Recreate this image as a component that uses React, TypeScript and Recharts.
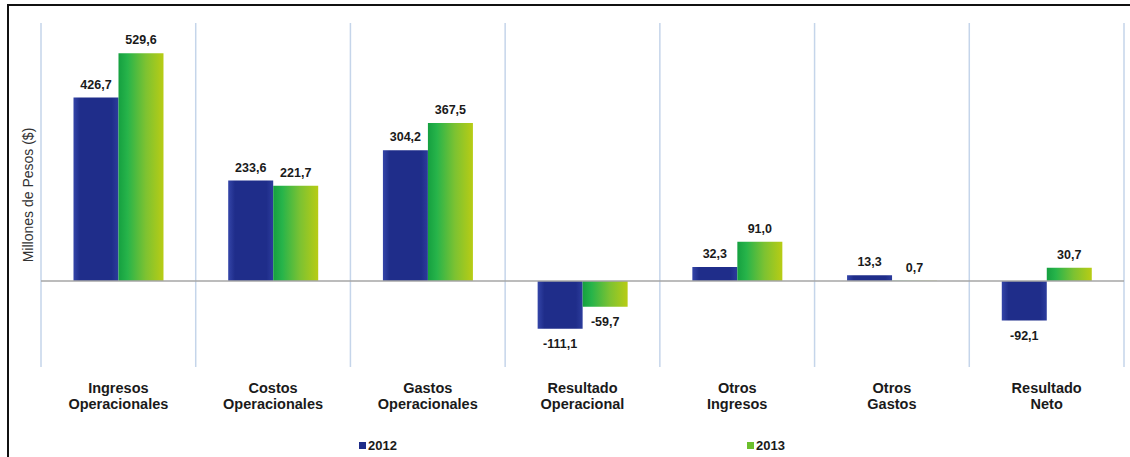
import React from 'react'
import {
  ComposedChart,
  Bar,
  XAxis,
  YAxis,
  CartesianGrid,
  ReferenceLine,
  LabelList
} from 'recharts'

const categories = [
  'Ingresos Operacionales',
  'Costos Operacionales',
  'Gastos Operacionales',
  'Resultado Operacional',
  'Otros Ingresos',
  'Otros Gastos',
  'Resultado Neto'
]
const values2012 = [426.7, 233.6, 304.2, -111.1, 32.3, 13.3, -92.1]
const values2013 = [529.6, 221.7, 367.5, -59.7, 91.0, 0.7, 30.7]
const yDomain = [-200, 600]

const series = [
  { key: 'y2012', name: '2012', fill: 'url(#grad2012)', swatch: '#1f2d88' },
  { key: 'y2013', name: '2013', fill: 'url(#grad2013)', swatch: '#6cbf2c' }
]

const data = categories.map((c, i) => ({
  name: c,
  y2012: values2012[i],
  y2013: values2013[i]
}))

const W = 1130
const H = 457
const FONT = '"Liberation Sans", Arial, sans-serif'

const fmt = (v: number) => v.toFixed(1).replace('.', ',')

function ValueLabel(props: any) {
  const { x, y, width, height, value } = props
  const top = Math.min(y, y + height)
  const bottom = Math.max(y, y + height)
  const ty = value >= 0 ? top - 9 : bottom + 19
  return (
    <text
      x={x + width / 2}
      y={ty}
      textAnchor="middle"
      fontFamily={FONT}
      fontSize={12.5}
      fontWeight="bold"
      fill="#1a1a1a"
    >
      {fmt(value)}
    </text>
  )
}

function CategoryTick(props: any) {
  const { x, y, payload } = props
  const words = String(payload.value).split(' ')
  return (
    <text
      x={x}
      y={y}
      textAnchor="middle"
      fontFamily={FONT}
      fontSize={14.5}
      fontWeight="bold"
      fill="#1a1a1a"
    >
      {words.map((w, i) => (
        <tspan key={i} x={x} dy={i === 0 ? 18 : 16}>
          {w}
        </tspan>
      ))}
    </text>
  )
}

export default function App() {
  return (
    <div
      style={{
        position: 'absolute',
        left: 0,
        top: 0,
        width: W,
        height: H,
        overflow: 'hidden',
        background: '#fff'
      }}
    >
      <div
        style={{
          position: 'absolute',
          left: 7,
          top: 4,
          width: W + 50,
          height: H + 50,
          border: '2px solid #111'
        }}
      />
      <div style={{ position: 'absolute', left: 0, top: 0 }}>
        <ComposedChart
          width={W}
          height={H}
          data={data}
          margin={{ top: 23, right: 6, bottom: 30, left: 8 }}
          barCategoryGap="21%"
          barGap={0}
        >
          <defs>
            <linearGradient id="grad2012" x1="0" y1="0" x2="1" y2="0">
              <stop offset="0%" stopColor="#3445a8" />
              <stop offset="15%" stopColor="#1f2d8a" />
              <stop offset="85%" stopColor="#1f2d8a" />
              <stop offset="100%" stopColor="#2c3c9c" />
            </linearGradient>
            <linearGradient id="grad2013" x1="0" y1="0" x2="1" y2="0">
              <stop offset="0%" stopColor="#15a040" />
              <stop offset="20%" stopColor="#27b44a" />
              <stop offset="60%" stopColor="#7cc232" />
              <stop offset="100%" stopColor="#b8cc14" />
            </linearGradient>
          </defs>
          <CartesianGrid
            horizontal={false}
            stroke="#c5d5ea"
            strokeWidth={1.5}
            verticalCoordinatesGenerator={({ offset }: any) =>
              categories
                .concat([''])
                .map((_, i) => offset.left + (i * offset.width) / categories.length)
            }
          />
          <XAxis
            dataKey="name"
            axisLine={false}
            tickLine={false}
            height={60}
            interval={0}
            tick={<CategoryTick />}
          />
          <YAxis
            domain={yDomain}
            width={33}
            axisLine={false}
            tickLine={false}
            tick={false}
            label={{
              content: ({ viewBox }: any) => (
                <text
                  x={viewBox.x + viewBox.width / 2 + 3}
                  y={viewBox.y + viewBox.height / 2}
                  transform={`rotate(-90 ${viewBox.x + viewBox.width / 2 + 3} ${
                    viewBox.y + viewBox.height / 2
                  })`}
                  textAnchor="middle"
                  dominantBaseline="central"
                  fontFamily={FONT}
                  fontSize={14}
                  fill="#333"
                >
                  Millones de Pesos ($)
                </text>
              )
            }}
          />
          <ReferenceLine y={0} stroke="#a6a6a6" strokeWidth={1.5} />
          {series.map(s => (
            <Bar
              key={s.key}
              dataKey={s.key}
              name={s.name}
              fill={s.fill}
              isAnimationActive={false}
            >
              <LabelList dataKey={s.key} content={<ValueLabel />} />
            </Bar>
          ))}
        </ComposedChart>
      </div>
      {series.map((s, i) => (
        <div
          key={s.key}
          style={{
            position: 'absolute',
            left: i === 0 ? 359 : 747,
            top: 438,
            display: 'flex',
            alignItems: 'center',
            fontFamily: FONT,
            fontSize: 13,
            fontWeight: 'bold',
            color: '#1a1a1a'
          }}
        >
          <span
            style={{
              display: 'inline-block',
              width: 7,
              height: 7,
              background: s.swatch,
              marginRight: 2
            }}
          />
          {s.name}
        </div>
      ))}
    </div>
  )
}
